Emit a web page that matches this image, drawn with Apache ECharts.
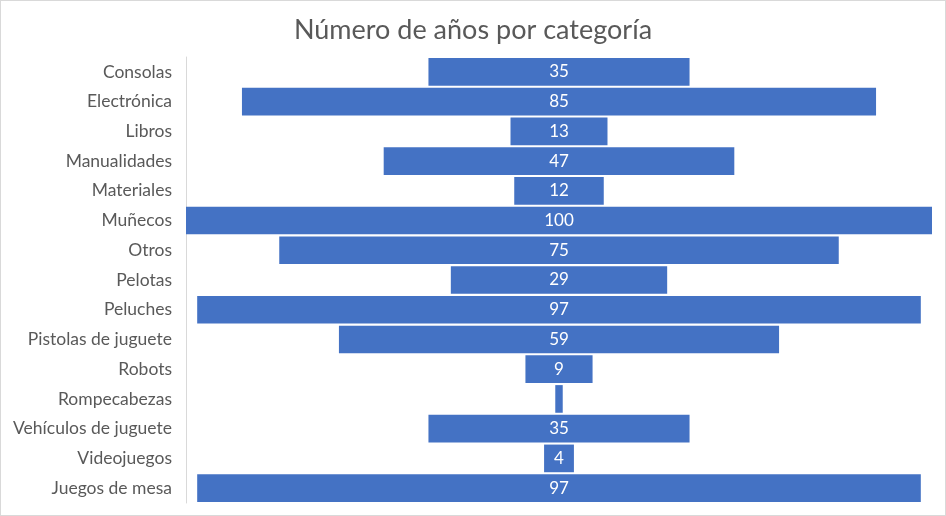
<!DOCTYPE html>
<html><head><meta charset="utf-8">
<script src="https://cdn.jsdelivr.net/npm/echarts@6/dist/echarts.min.js"></script>
<style>html,body{margin:0;padding:0;background:#fff}#c{width:946px;height:516px;box-sizing:border-box;border:1px solid #d9d9d9}</style>
</head><body><div id="c"></div>
<script>
const titleText = "Número de años por categoría";
const categories = ["Consolas","Electrónica","Libros","Manualidades","Materiales","Muñecos","Otros","Pelotas","Peluches","Pistolas de juguete","Robots","Rompecabezas","Vehículos de juguete","Videojuegos","Juegos de mesa"];
const values = [35,85,13,47,12,100,75,29,97,59,9,1,35,4,97];
const maxValue = 100;

const offsets = values.map(v => (maxValue - v) / 2);
const chart = echarts.init(document.getElementById('c'), null, {renderer:'canvas'});
const font = 'Lato, "Open Sans", sans-serif';
chart.setOption({
  animation:false,
  title:{text:titleText,left:'center',top:11,textStyle:{fontFamily:font,fontSize:27,fontWeight:'normal',color:'#595959'}},
  grid:{left:185,right:13,top:56,bottom:12,containLabel:false},
  xAxis:{type:'value',min:0,max:maxValue,show:false},
  yAxis:{type:'category',data:categories,inverse:true,
    axisLine:{show:true,lineStyle:{color:'#d9d9d9',width:1}},
    axisTick:{show:false},
    axisLabel:{fontFamily:font,fontSize:17.5,color:'#595959',margin:14}},
  series:[
    {type:'bar',stack:'f',data:offsets,itemStyle:{color:'rgba(0,0,0,0)'},barCategoryGap:'7%',silent:true},
    {type:'bar',stack:'f',data:values.map(v => ({value:v,label:{show:v>=2}})),itemStyle:{color:'#4472C4'},barCategoryGap:'7%',
      label:{show:true,position:'inside',color:'#fff',fontFamily:font,fontSize:17}}
  ]
});
</script></body></html>
